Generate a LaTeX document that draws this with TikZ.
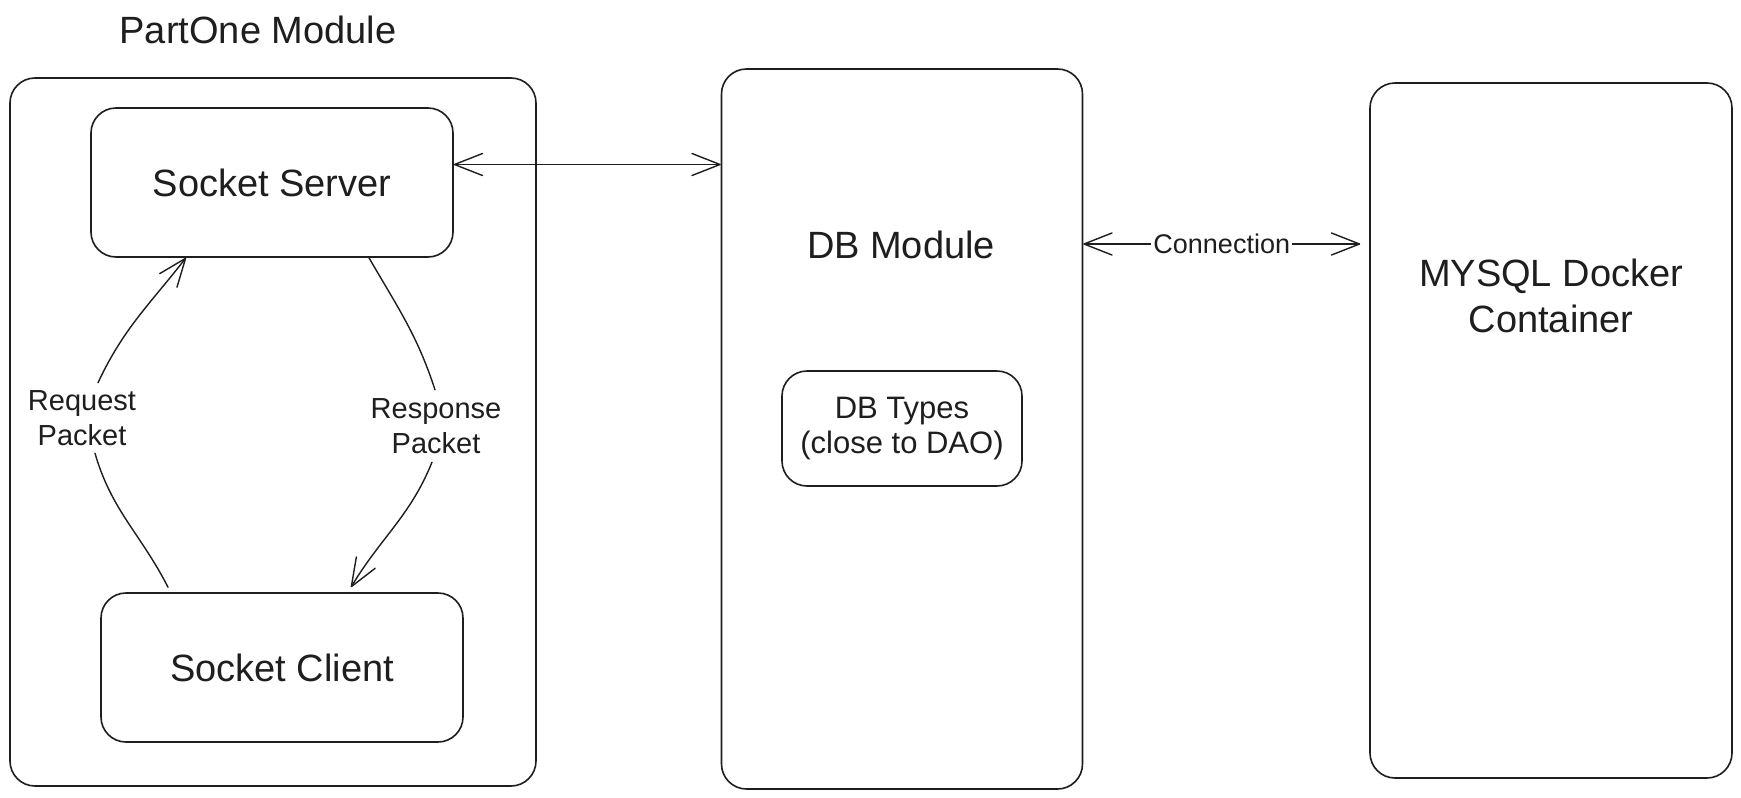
\documentclass[tikz,border=0pt]{standalone}
\usepackage{fontspec}
\setmainfont{Liberation Sans}
\usetikzlibrary{arrows.meta,calc}
\definecolor{ink}{HTML}{1E1E1E}
\begin{document}
\begin{tikzpicture}[x=1pt,y=-1pt,
  box/.style={draw=ink, line width=1.6pt, rounded corners=25pt, inner sep=0pt},
  txt/.style={text=ink, inner sep=0pt, align=center},
  big/.style={font=\fontsize{38}{46}\selectfont},
  midf/.style={font=\fontsize{31}{35}\selectfont},
  smallf/.style={font=\fontsize{29}{35}\selectfont},
  conn/.style={draw=ink, line width=1.4pt, line cap=round, line join=round},
  tipend/.style={-{Straight Barb[length=28pt,width=22pt,line cap=round,line join=round]}},
  tipboth/.style={{Straight Barb[length=28pt,width=22pt,line cap=round,line join=round]}-{Straight Barb[length=28pt,width=22pt,line cap=round,line join=round]}}
]
\path[use as bounding box, fill=white] (0,0) rectangle (1741,798);

% PartOne module
\node[txt, big, anchor=base] (ptitle) at (258,43) {PartOne Module};
\node[box, minimum width=526pt, minimum height=708pt] (outer) at (273,432) {};
\node[box, big, text=ink, minimum width=362pt, minimum height=149pt] (server) at (272,182.5) {Socket Server};
\node[box, big, text=ink, minimum width=362pt, minimum height=149pt] (client) at (282,667.5) {Socket Client};

% DB module
\node[box, minimum width=361pt, minimum height=720pt] (dbmod) at (902,429) {};
\node[txt, big, anchor=base] (dbmodlbl) at (901,258) {DB Module};
\node[box, midf, text=ink, align=center, minimum width=240pt, minimum height=115pt] (dbtypes) at (902,428.5) {DB Types\\(close to DAO)};

% MySQL
\node[box, minimum width=362pt, minimum height=695pt] (mysql) at (1551,430.5) {};
\node[txt, big] (mysqllbl) at (1551,296) {MYSQL Docker\\Container};

% labels on curved arrows
\node[txt, smallf, minimum height=70pt] (reqlbl) at (82,418) {Request\\Packet};
\node[txt, smallf, minimum height=72pt] (resplbl) at (436,426) {Response\\Packet};

% request arrow (client -> server)
\draw[conn] ([xshift=-114pt,yshift=5pt]client.north) to[out=117,in=-74] ([xshift=13pt]reqlbl.south);
\draw[conn, tipend] ([xshift=16pt]reqlbl.north) to[out=65,in=-128] ([xshift=-86pt]server.south);

% response arrow (server -> client)
\draw[conn] ([xshift=97pt]server.south) to[out=-60,in=108] ([xshift=-1pt]resplbl.north);
\draw[conn, tipend] ([xshift=-4pt]resplbl.south) to[out=248,in=59] ([xshift=69pt,yshift=5pt]client.north);

% server <-> db module
\coordinate (sA) at ([yshift=18pt]server.east);
\draw[conn, tipboth] (sA) -- (sA -| dbmod.west);

% db module <-> mysql
\coordinate (cL) at (dbmod.east |- 0,244);
\coordinate (cR) at ($(mysql.west |- 0,244)+(-9,0)$);
\draw[conn, tipboth] (cL) -- (cR) node[midway, fill=white, text=ink, inner sep=2pt, font=\fontsize{27}{32}\selectfont] (connlbl) {Connection};
\end{tikzpicture}
\end{document}
